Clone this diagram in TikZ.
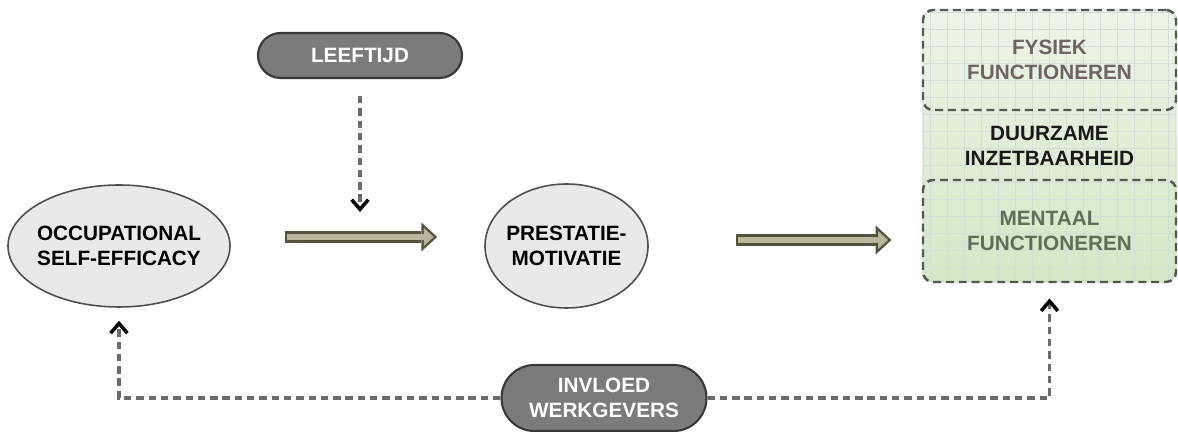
\documentclass[tikz,border=0pt]{standalone}
\usepackage{fontspec}
\setmainfont{Liberation Sans}
\usetikzlibrary{arrows.meta,shapes.geometric,shapes.misc}
\definecolor{ellfill}{HTML}{E9E9E9}
\definecolor{elledge}{HTML}{4E4E4E}
\definecolor{pillfill}{HTML}{7B7B7B}
\definecolor{pilledge}{HTML}{383838}
\definecolor{fatedge}{HTML}{57523F}
\definecolor{fatfill}{HTML}{BAB59D}
\definecolor{dashgray}{HTML}{6C6C6C}
\definecolor{partedge}{HTML}{4F5A51}
\definecolor{boxtop}{HTML}{EEF5E8}
\definecolor{boxbottom}{HTML}{D3E7C6}
\definecolor{gridline}{HTML}{D2DED8}
\definecolor{fystext}{HTML}{6E6262}
\definecolor{mentext}{HTML}{5E6E58}
\begin{document}
\begin{tikzpicture}
    \tikzstyle{caps}=[font=\bfseries\fontsize{11.8}{14.2}\selectfont,align=center]
    \tikzstyle{factor}=[caps,ellipse,draw=elledge,line width=0.9pt,fill=ellfill,inner xsep=-0.6cm,inner ysep=0pt]
    \tikzstyle{pill}=[caps,rounded rectangle,draw=pilledge,line width=1.2pt,fill=pillfill,text=white,inner sep=0pt,minimum height=0.9cm]
    \tikzstyle{fat}=[line width=6.8pt,draw=fatedge,-{Triangle[length=9pt,width=16.5pt,line width=0pt,color=fatedge]}]
    \tikzstyle{fatin}=[line width=3.9pt,draw=fatfill,-{Triangle[length=5.6pt,width=10.2pt,line width=0pt,color=fatfill]}]
    \tikzstyle{dashline}=[draw=dashgray,line width=2pt,dash pattern=on 4.2pt off 2.8pt,-{Straight Barb[color=black,length=5.5pt,width=9.5pt,line width=2pt]}]
    \tikzstyle{part}=[caps,draw=partedge,line width=1.4pt,dash pattern=on 4.5pt off 2.8pt,rounded corners=0.2cm,minimum width=5.06cm]
    \useasboundingbox (0,0) rectangle (23.56,8.64);
    % box on the right
    \node[caps,draw=gridline,line width=0.6pt,rounded corners=0.2cm,top color=boxtop,bottom color=boxbottom,
          minimum width=5.06cm,minimum height=5.44cm,text=black!90,
          path picture={\draw[gridline,line width=0.5pt,step=0.34cm] (path picture bounding box.south west) grid (path picture bounding box.north east);}]
          (dib) at (20.99,5.72) {DUURZAME\\INZETBAARHEID};
    \node[part,minimum height=2cm,text=fystext] (fys) at (20.99,7.44) {FYSIEK\\FUNCTIONEREN};
    \node[part,minimum height=2.04cm,text=mentext] (men) at (20.99,4.02) {MENTAAL\\FUNCTIONEREN};
    % factors
    \node[factor,minimum width=4.44cm,minimum height=2.44cm] (ose) at (2.38,3.72) {OCCUPATIONAL\\SELF-EFFICACY};
    \node[factor,minimum width=3.26cm,minimum height=2.48cm] (pm) at (11.33,3.72) {PRESTATIE-\\MOTIVATIE};
    \node[pill,minimum width=4.08cm] (lt) at (7.20,7.53) {LEEFTIJD};
    \node[pill,minimum width=4.1cm,minimum height=1.32cm] (inv) at (12.08,0.68) {INVLOED\\WERKGEVERS};
    % thick arrows
    \draw[fat,shorten <=1.08cm,shorten >=0.94cm] ([yshift=0.18cm]ose.east) -- ([yshift=0.18cm]pm.west);
    \draw[fatin,shorten <=1.08cm+1.4pt,shorten >=0.94cm+2pt] ([yshift=0.18cm]ose.east) -- ([yshift=0.18cm]pm.west);
    \draw[fat,shorten <=1.74cm,shorten >=0.62cm] ([yshift=0.12cm]pm.east) -- ([yshift=0.12cm]pm.east -| dib.west);
    \draw[fatin,shorten <=1.74cm+1.4pt,shorten >=0.62cm+2pt] ([yshift=0.12cm]pm.east) -- ([yshift=0.12cm]pm.east -| dib.west);
    % dashed arrows
    \coordinate (mod) at (7.20,3.90);
    \draw[dashline,shorten <=0.34cm,shorten >=0.5cm] (lt.south) -- (mod);
    \draw[dashline,shorten >=0.26cm] (inv.west) -| (ose.south);
    \draw[dashline,shorten >=0.32cm] (inv.east) -| (dib.south);
\end{tikzpicture}
\end{document}
